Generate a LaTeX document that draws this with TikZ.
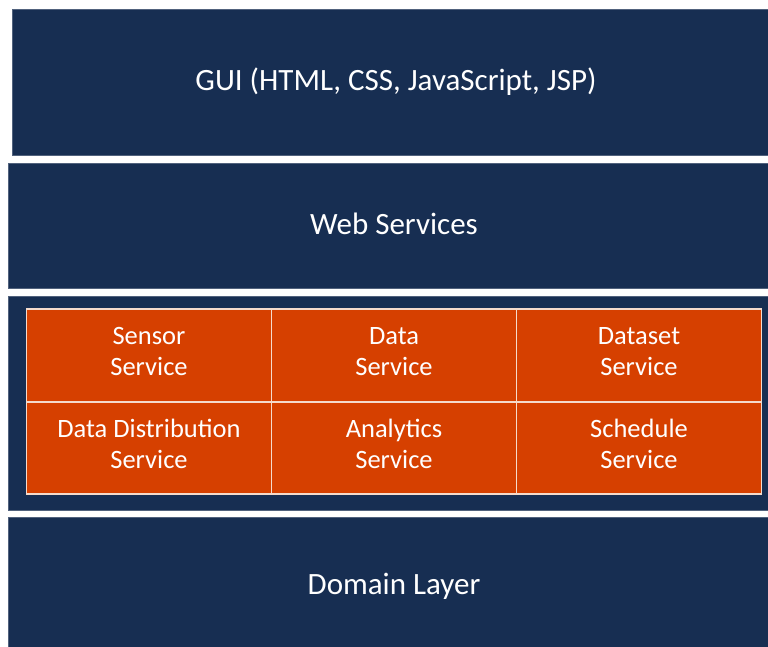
\documentclass[tikz,border=0pt]{standalone}
\usepackage{fontspec}
\setmainfont{Carlito}
\definecolor{LayerClr}{rgb}{0.09,0.18,0.32}
\definecolor{ServiceClr}{rgb}{0.84,0.25,0}
\definecolor{GridClr}{rgb}{0.96,0.86,0.80}

\begin{document}
\begin{tikzpicture}[x=1pt,y=-1pt,
  layer/.style={fill=LayerClr,draw=LayerClr!75!white,line width=.6pt,inner sep=0pt},
  layertext/.style={text=white,xshift=6pt,font=\fontsize{31}{37}\selectfont},
  service/.style={fill=ServiceClr,draw=GridClr,line width=1.6pt,inner sep=0pt,
    minimum width=245pt,minimum height=92.5pt},
  servicetext/.style={align=center,text=white,yshift=4pt,
    font=\fontsize{26.5}{31}\selectfont}]
\useasboundingbox[fill=white] (0,0) rectangle (768,647);

\node[layer,minimum width=756pt,minimum height=146pt,
  label={[layertext]center:GUI (HTML, CSS, JavaScript, JSP)}] (gui) at (390,82) {};
\node[layer,minimum width=760pt,minimum height=125pt,
  label={[layertext,yshift=2pt]center:Web Services}] (web) at (388,225.5) {};
\node[layer,minimum width=760pt,minimum height=214pt] (mid) at (388,403) {};
\node[layer,minimum width=760pt,minimum height=130pt,
  label={[layertext,yshift=-4pt]center:Domain Layer}] (domain) at (388,582) {};

\node[service,label={[servicetext]center:Sensor\\Service}] (sensor) at (149,355.5) {};
\node[service,label={[servicetext]center:Data\\Service}] (data) at (394,355.5) {};
\node[service,label={[servicetext]center:Dataset\\Service}] (dataset) at (639,355.5) {};
\node[service,label={[servicetext]center:Data Distribution\\Service}] (distrib) at (149,448) {};
\node[service,label={[servicetext]center:Analytics\\Service}] (analytics) at (394,448) {};
\node[service,label={[servicetext]center:Schedule\\Service}] (schedule) at (639,448) {};

\end{tikzpicture}
\end{document}
